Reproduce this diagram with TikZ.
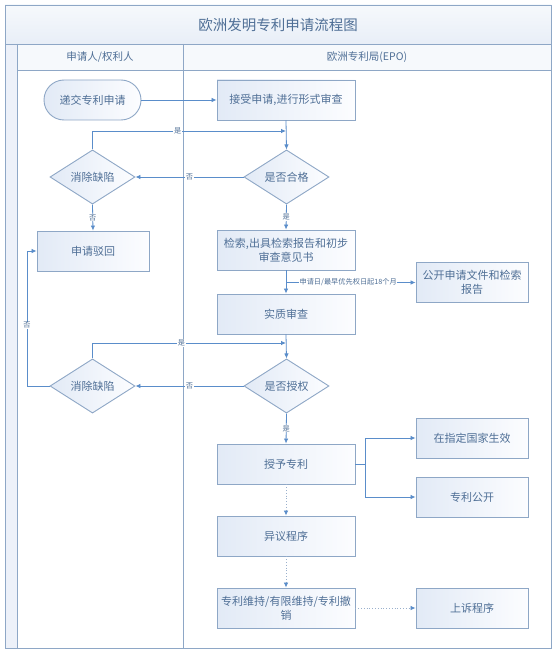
\documentclass[tikz,border=0pt]{standalone}
\usepackage{fontspec}
\setmainfont{Noto Sans CJK SC}
\usetikzlibrary{shapes.geometric,arrows.meta}
\definecolor{framec}{HTML}{8EA7C6}
\definecolor{connc}{HTML}{5A8DCA}
\definecolor{dotc}{HTML}{9AB0CC}
\definecolor{txtc}{HTML}{4F6F96}
\definecolor{fillA}{HTML}{E2EAF6}
\definecolor{fillB}{HTML}{FCFDFF}
\definecolor{bandA}{HTML}{F6F9FC}
\definecolor{bandB}{HTML}{E8EEF7}
\definecolor{stripc}{HTML}{EDF1F9}
\tikzset{
  boxn/.style={draw=framec, line width=0.9pt, left color=fillA, right color=fillB,
    text=txtc, font=\fontsize{11}{14}\selectfont, align=center, inner sep=1pt},
  mainbox/.style={boxn, minimum width=138pt, minimum height=40pt},
  sidebox/.style={boxn, minimum width=112pt, minimum height=40pt},
  decis/.style={boxn, diamond, minimum width=85pt, minimum height=50pt, inner sep=0pt},
  pillbox/.style={boxn, rounded corners=20pt, minimum width=97pt, minimum height=40pt},
  arr/.style={draw=connc, line width=0.8pt, -{Latex[length=5pt,width=4.5pt,color=connc]}},
  dotarr/.style={draw=dotc, line width=0.8pt, dotted, -{Latex[length=5pt,width=4.5pt,color=connc]}},
  lbl/.style={font=\fontsize{7.2}{8}\selectfont, text=txtc, fill=white, inner sep=0.6pt},
  lanel/.style={draw=framec, line width=0.9pt},
  headt/.style={text=txtc, font=\fontsize{10.5}{12}\selectfont},
}
\begin{document}
\begin{tikzpicture}[x=1pt,y=-1pt]
\useasboundingbox (0,0) rectangle (557,655);
\fill[white] (0,0) rectangle (557,655);
% frame
\shade[top color=bandA, bottom color=bandB] (5,5) rectangle (551,44);
\fill[bandA] (17,44) rectangle (551,70);
\fill[stripc] (5,44) rectangle (17,648);
\draw[lanel] (5,5) rectangle (551,648);
\draw[lanel] (5,44) -- (551,44);
\draw[lanel] (17,70) -- (551,70);
\draw[lanel] (17,44) -- (17,648);
\draw[lanel] (183,44) -- (183,648);
\node[text=txtc, font=\fontsize{14.5}{16}\selectfont] (title) at (278,25) {欧洲发明专利申请流程图};
\node[headt] (h1) at (100,57) {申请人/权利人};
\node[headt] (h2) at (367,57) {欧洲专利局(EPO)};
% nodes
\node[pillbox] (submit) at (92.5,100) {递交专利申请};
\node[mainbox] (accept) at (286,100) {接受申请,进行形式审查};
\node[decis] (qual) at (286.5,177) {是否合格};
\node[decis] (fix1) at (92.5,177) {消除缺陷};
\node[sidebox] (reject) at (93,251) {申请驳回};
\node[mainbox] (search) at (286,250) {检索,出具检索报告和初步\\审查意见书};
\node[sidebox] (publ) at (472,282.5) {公开申请文件和检索\\报告};
\node[mainbox] (subst) at (286,314) {实质审查};
\node[decis] (grantq) at (286.5,386) {是否授权};
\node[decis] (fix2) at (92.5,386) {消除缺陷};
\node[mainbox] (grant) at (286,464) {授予专利};
\node[sidebox] (effect) at (472,438) {在指定国家生效};
\node[sidebox] (ppub) at (472,497) {专利公开};
\node[mainbox] (oppo) at (286,536) {异议程序};
\node[mainbox] (maint) at (286,608) {专利维持/有限维持/专利撤\\销};
\node[sidebox] (appeal) at (472,608) {上诉程序};
% connectors
\draw[arr] (submit.east) -- (accept.west);
\draw[arr] (accept.south) -- (qual.north);
\coordinate (j1) at (286,131);
\draw[arr] (fix1.north) |- (j1) node[lbl, pos=0.72] {是};
\draw[arr] (qual.west) -- (fix1.east) node[lbl, midway] {否};
\draw[arr] (fix1.south) -- (reject.north) node[lbl, pos=0.5] {否};
\draw[arr] (qual.south) -- (search.north) node[lbl, pos=0.5] {是};
\draw[arr] (search.south) -- (subst.north);
\coordinate (j2) at (286,282.5);
\draw[arr] (j2) -- (publ.west) node[lbl, pos=0.48] {申请日/最早优先权日起18个月};
\draw[arr] (subst.south) -- (grantq.north);
\coordinate (j3) at (286,343);
\draw[arr] (fix2.north) |- (j3) node[lbl, pos=0.73] {是};
\draw[arr] (grantq.west) -- (fix2.east) node[lbl, midway] {否};
\coordinate (lx) at (27,386);
\draw[arr] (fix2.west) -- (lx) |- (reject.west) node[lbl, pos=0.225] {否};
\draw[arr] (grantq.south) -- (grant.north) node[lbl, pos=0.5] {是};
\coordinate (g1) at (365,464);
\draw[draw=connc, line width=0.8pt] (grant.east) -- (g1);
\draw[arr] (g1) |- (effect.west);
\draw[arr] (g1) |- (ppub.west);
\draw[dotarr] (grant.south) -- (oppo.north);
\draw[dotarr] (oppo.south) -- (maint.north);
\draw[dotarr] (maint.east) -- (appeal.west);
\end{tikzpicture}
\end{document}
